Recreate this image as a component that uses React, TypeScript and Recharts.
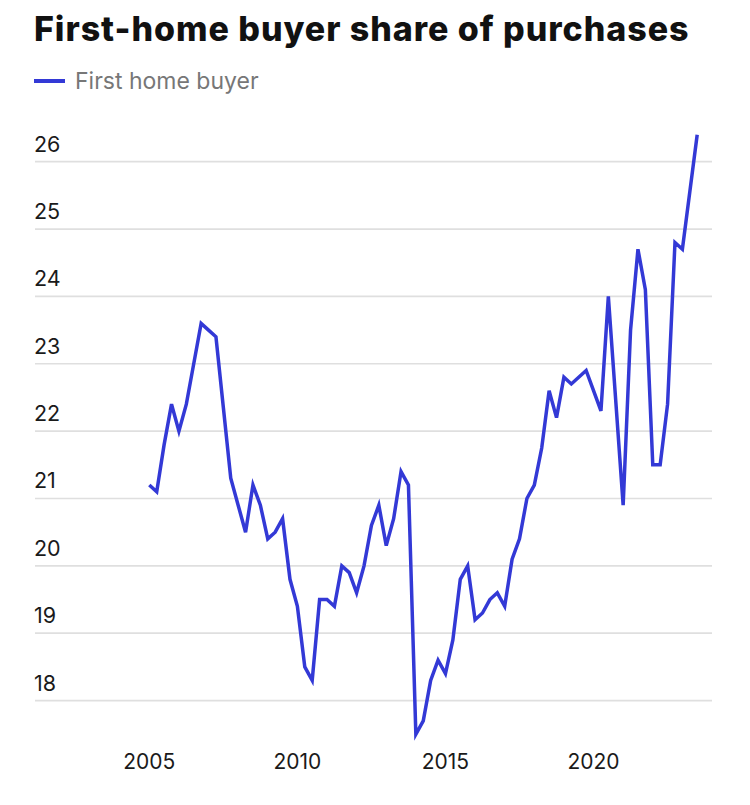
/**
 * FirstHomeBuyerChart — quarterly first-home buyer share of purchases.
 */
import { LineChart, Line, XAxis, YAxis, ReferenceLine } from 'recharts';

/** First quarter shown (2005 Q1), one value per quarter after that. */
const START_YEAR = 2005;

/** First-home buyer share of purchases, %. */
const share = [
  21.2, 21.1, 21.8, 22.4, 22.0, 22.4, 23.0, 23.6, 23.5, 23.4,
  22.35, 21.3, 20.9, 20.5, 21.2, 20.9, 20.4, 20.5, 20.7, 19.8,
  19.4, 18.5, 18.3, 19.5, 19.5, 19.4, 20.0, 19.9, 19.6, 20.0,
  20.6, 20.9, 20.3, 20.7, 21.4, 21.2, 17.5, 17.7, 18.3, 18.6,
  18.4, 18.9, 19.8, 20.0, 19.2, 19.3, 19.5, 19.6, 19.4, 20.1,
  20.4, 21.0, 21.2, 21.75, 22.6, 22.2, 22.8, 22.7, 22.8, 22.9,
  22.6, 22.3, 24.0, 22.45, 20.9, 23.5, 24.7, 24.1, 21.5, 21.5,
  22.4, 24.8, 24.7, 25.55, 26.4,
];

const yTicks = [18, 19, 20, 21, 22, 23, 24, 25, 26];
const xTicks = [2005, 2010, 2015, 2020];

const FONT = 'Inter, "Noto Sans", sans-serif';
const BLUE = '#3339d6';
const PLOT_LEFT = 35;

const data = share.map((v, i) => ({ t: START_YEAR + i / 4, share: v }));

/** y-labels sit left-aligned just above their gridline */
function renderYTick(props: any) {
  const { y, payload } = props;
  return (
    <text
      key={`y-${payload?.value}`}
      x={PLOT_LEFT - 1}
      y={y - 10}
      fill="#1a1a1a"
      fontSize={21.5}
      fontFamily={FONT}
      textAnchor="start"
    >
      {payload?.value}
    </text>
  );
}

function renderXTick(props: any) {
  const { x, y, payload } = props;
  return (
    <text
      key={`x-${payload?.value}`}
      x={x}
      y={y + 28}
      fill="#1a1a1a"
      fontSize={21}
      fontFamily={FONT}
      textAnchor="middle"
    >
      {payload?.value}
    </text>
  );
}

export default function App() {
  return (
    <div style={{ position: 'absolute', left: 0, top: 0, width: 750, height: 805, background: '#fff' }}>
      <div
        style={{
          position: 'absolute',
          left: 34,
          top: 12,
          fontFamily: FONT,
          fontWeight: 800,
          fontSize: 34,
          letterSpacing: 0.95,
          lineHeight: 1,
          color: '#111',
          whiteSpace: 'nowrap',
        }}
      >
        First-home buyer share of purchases
      </div>
      <div style={{ position: 'absolute', left: 34, top: 79, width: 31, height: 4, background: BLUE }} />
      <div
        style={{
          position: 'absolute',
          left: 75,
          top: 70,
          fontFamily: FONT,
          fontSize: 23,
          lineHeight: 1,
          color: '#777',
          whiteSpace: 'nowrap',
        }}
      >
        First home buyer
      </div>
      <div style={{ position: 'absolute', left: 0, top: 0 }}>
        <LineChart width={750} height={805} data={data} margin={{ top: 128, right: 38, bottom: 24, left: 34 }}>
          <XAxis
            dataKey="t"
            type="number"
            domain={[2001.14, 2024.0]}
            ticks={xTicks}
            axisLine={false}
            tickLine={false}
            tickSize={0}
            tickMargin={0}
            height={40}
            tick={renderXTick}
            allowDataOverflow
          />
          <YAxis
            type="number"
            domain={[17.4, 26.5]}
            ticks={yTicks}
            interval={0}
            axisLine={false}
            tickLine={false}
            width={1}
            tick={renderYTick}
            allowDataOverflow
          />
          {yTicks.map((v) => (
            <ReferenceLine key={v} y={v} stroke="#dfdfdf" strokeWidth={1.7} />
          ))}
          <Line
            type="linear"
            dataKey="share"
            stroke={BLUE}
            strokeWidth={3.5}
            dot={false}
            isAnimationActive={false}
          />
        </LineChart>
      </div>
    </div>
  );
}
